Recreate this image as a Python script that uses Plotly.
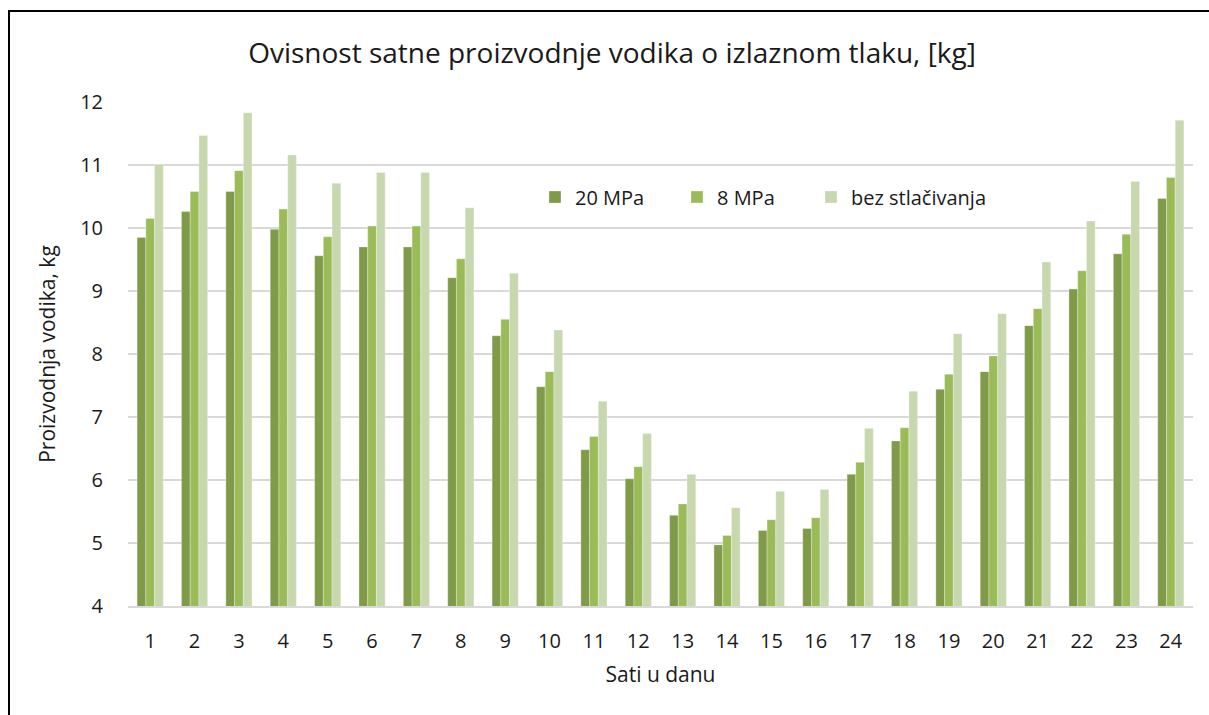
import plotly.graph_objects as go

# hours of the day
hours = [str(h) for h in range(1, 25)]

# hourly hydrogen production, kg
p20 = [9.85, 10.26, 10.58, 9.98, 9.56, 9.70, 9.70, 9.21, 8.29, 7.48, 6.48, 6.02,
       5.44, 4.97, 5.20, 5.23, 6.09, 6.62, 7.44, 7.72, 8.45, 9.03, 9.59, 10.47]
p8 = [10.15, 10.58, 10.91, 10.30, 9.86, 10.03, 10.03, 9.51, 8.55, 7.72, 6.69, 6.21,
      5.62, 5.12, 5.37, 5.40, 6.28, 6.83, 7.68, 7.97, 8.72, 9.32, 9.90, 10.80]
p_none = [11.01, 11.47, 11.83, 11.16, 10.71, 10.88, 10.88, 10.32, 9.28, 8.38, 7.25, 6.74,
          6.09, 5.56, 5.82, 5.85, 6.82, 7.41, 8.32, 8.64, 9.46, 10.11, 10.74, 11.71]

series = [
    ('20 MPa', p20, '#7F9B4A', 'legend'),
    ('8 MPa', p8, '#9BBB59', 'legend'),
    ('bez stlačivanja', p_none, '#C7D8AE', 'legend2'),
]

W, H = 1209, 715
L, R, T, B = 128, 16, 102, 109
pw, ph = W - L - R, H - T - B

fig = go.Figure()
for name, vals, col, leg in series:
    fig.add_trace(go.Bar(
        x=hours, y=vals, name=name, legend=leg,
        marker=dict(color=col, line=dict(color='rgba(255,255,255,0.5)', width=0.6)),
    ))

font_fam = 'Open Sans, Noto Sans, sans-serif'
leg_y = (H - B - 197) / ph

fig.update_layout(
    width=W, height=H,
    margin=dict(l=L, r=R, t=T, b=B, autoexpand=False),
    paper_bgcolor='white', plot_bgcolor='white',
    font=dict(family=font_fam, color='#1a1a1a', size=20),
    barmode='group', bargap=0.41, bargroupgap=0,
    title=dict(text='Ovisnost satne proizvodnje vodika o izlaznom tlaku, [kg]',
               x=612 / W, xref='container', xanchor='center',
               y=1 - 53 / H, yanchor='middle',
               font=dict(size=28, family=font_fam, color='#1a1a1a')),
    xaxis=dict(
        title=dict(text='Sati u danu', font=dict(size=21), standoff=14),
        showgrid=False, showline=True, linecolor='#D9D9D9', linewidth=2,
        ticks='', ticklabelstandoff=16, tickfont=dict(size=20),
    ),
    yaxis=dict(
        title=dict(text='Proizvodnja vodika, kg', font=dict(size=21), standoff=18),
        range=[4, 12], dtick=1, showgrid=True, gridcolor='#D9D9D9', gridwidth=1.5,
        zeroline=False, showline=False, ticks='', ticklabelstandoff=24,
        tickfont=dict(size=20),
    ),
    legend=dict(orientation='h', x=(535 - L) / pw, y=leg_y,
                xanchor='left', yanchor='middle', bgcolor='rgba(0,0,0,0)',
                font=dict(size=20), traceorder='normal', itemwidth=30,
                entrywidth=97),
    legend2=dict(orientation='h', x=(811 - L) / pw, y=leg_y,
                 xanchor='left', yanchor='middle', bgcolor='rgba(0,0,0,0)',
                 font=dict(size=20), itemwidth=30),
    shapes=[dict(type='rect', xref='paper', yref='paper',
                 x0=(9 - L) / pw, x1=(1220 - L) / pw,
                 y0=(H - B - 725) / ph, y1=(H - B - 11) / ph,
                 line=dict(color='black', width=2), layer='above')],
)

fig.write_html('out.html', config={'displayModeBar': False},
               post_script="document.body.style.margin='0';")
